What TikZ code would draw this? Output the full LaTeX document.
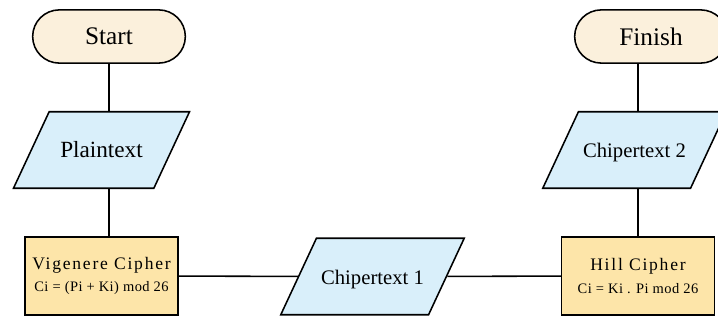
\documentclass[tikz,border=0pt]{standalone}
\usepackage{fontspec}
\setmainfont{Liberation Serif}
\newfontfamily\ciphertitle[LetterSpace=10]{Liberation Serif}
\newfontfamily\cipherrule[LetterSpace=3]{Liberation Serif}
\usetikzlibrary{shapes.geometric,shapes.misc}
\definecolor{termfill}{HTML}{FBF0DC}
\definecolor{iofill}{HTML}{D9EFFA}
\definecolor{procfill}{HTML}{FDE5A9}
\begin{document}
\begin{tikzpicture}[x=0.025cm,y=-0.025cm,line width=1.1pt,
    terminal/.style={draw,fill=termfill,rounded rectangle,minimum width=4.05cm,minimum height=1.33cm,font=\fontsize{18}{20}\selectfont},
    inout/.style={draw,fill=iofill,trapezium,trapezium left angle=65,trapezium right angle=115,trapezium stretches body,minimum width=4.4cm,inner ysep=0pt,text height=32.7pt,text depth=21.7pt},
    process/.style={draw,fill=procfill,minimum width=3.82cm,minimum height=1.95cm,align=center,inner sep=1pt}]
    \useasboundingbox (0,0) rectangle (718,320);
    \node[terminal] (start) at (109,36.5) {Start};
    \node[inout,font=\fontsize{16.5}{18}\selectfont] (plain) at (101.5,150) {Plaintext};
    \node[process] (vig) at (101.5,276) {{\ciphertitle\fontsize{12.5}{14}\selectfont Vigenere Cipher}\\[4pt]{\cipherrule\fontsize{10.3}{12}\selectfont Ci = (Pi + Ki) mod 26}};
    \node[inout,font=\fontsize{14.7}{16}\selectfont] (ch1) at (372.5,276.5) {Chipertext 1};
    \node[process] (hill) at (638,276) {{\ciphertitle\fontsize{12.5}{14}\selectfont Hill Cipher}\\[4pt]{\cipherrule\fontsize{10.3}{12}\selectfont Ci = Ki . Pi mod 26}};
    \node[inout,font=\fontsize{14.7}{16}\selectfont] (ch2) at (634.5,150) {Chipertext 2};
    \node[terminal] (finish) at (651,36.5) {Finish};
    \draw (start.south) -- (start.south |- plain.north);
    \draw (start.south |- plain.south) -- (start.south |- vig.north);
    \draw (vig) -- (ch1);
    \draw (ch1) -- (hill);
    \draw (hill.north |- finish.south) -- (hill.north |- ch2.north);
    \draw (hill.north |- ch2.south) -- (hill.north);
\end{tikzpicture}
\end{document}
